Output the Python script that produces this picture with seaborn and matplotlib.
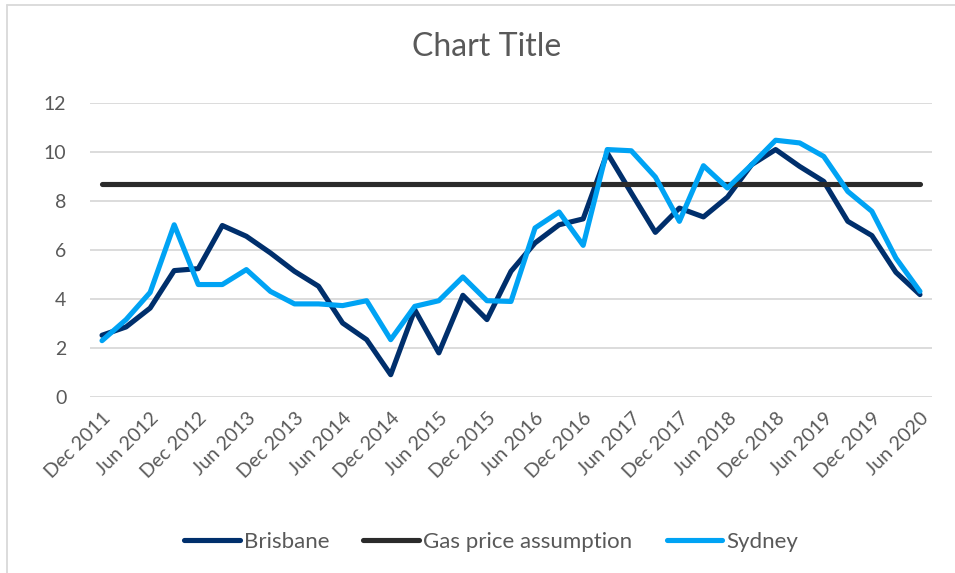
import matplotlib
matplotlib.use("Agg")
import matplotlib.pyplot as plt
import seaborn as sns
import pandas as pd
from matplotlib.lines import Line2D

# ---- data ----
quarters = [
    "Dec 2011", "Mar 2012", "Jun 2012", "Sep 2012", "Dec 2012", "Mar 2013", "Jun 2013",
    "Sep 2013", "Dec 2013", "Mar 2014", "Jun 2014", "Sep 2014", "Dec 2014", "Mar 2015",
    "Jun 2015", "Sep 2015", "Dec 2015", "Mar 2016", "Jun 2016", "Sep 2016", "Dec 2016",
    "Mar 2017", "Jun 2017", "Sep 2017", "Dec 2017", "Mar 2018", "Jun 2018", "Sep 2018",
    "Dec 2018", "Mar 2019", "Jun 2019", "Sep 2019", "Dec 2019", "Mar 2020", "Jun 2020",
]
brisbane = [2.52, 2.86, 3.63, 5.16, 5.24, 7.00, 6.56, 5.88, 5.13, 4.52, 3.02, 2.34,
            0.91, 3.56, 1.80, 4.15, 3.16, 5.13, 6.29, 7.03, 7.27, 9.96, 8.33, 6.72,
            7.71, 7.35, 8.16, 9.48, 10.10, 9.41, 8.80, 7.17, 6.59, 5.09, 4.18]
sydney = [2.30, 3.16, 4.27, 7.03, 4.59, 4.59, 5.20, 4.31, 3.80, 3.80, 3.73, 3.93,
          2.34, 3.70, 3.93, 4.90, 3.93, 3.90, 6.90, 7.55, 6.19, 10.10, 10.05, 8.98,
          7.17, 9.44, 8.53, 9.48, 10.48, 10.37, 9.82, 8.39, 7.58, 5.67, 4.31]
gas_price = [8.7] * len(quarters)

series_names = ["Brisbane", "Gas price assumption", "Sydney"]
colors = {"Brisbane": "#002f6c", "Gas price assumption": "#2b2b2b", "Sydney": "#00a3f4"}
yticks = [0, 2, 4, 6, 8, 10, 12]

rows = []
for name, vals in zip(series_names, [brisbane, gas_price, sydney]):
    for i, v in enumerate(vals):
        rows.append({"idx": i, "value": v, "series": name})
df = pd.DataFrame(rows)

# ---- style ----
sns.set_theme(style="white")
plt.rcParams["font.family"] = ["Lato", "DejaVu Sans"]
text_color = "#595959"

fig = plt.figure(figsize=(9.55, 5.73), dpi=100)
ax = fig.add_axes([90 / 955, 1 - 397 / 573, (932 - 90) / 955, (397 - 103) / 573])

sns.lineplot(data=df, x="idx", y="value", hue="series", hue_order=series_names,
             palette=colors, linewidth=3.7, ax=ax, legend=False, sort=False)
for ln in ax.get_lines():
    ln.set_solid_capstyle("round")
    ln.set_solid_joinstyle("round")

ax.set_xlim(-0.5, len(quarters) - 0.5)
ax.set_ylim(0, 12)
ax.set_yticks(yticks)
ax.set_yticklabels([str(t) for t in yticks])
tick_pos = list(range(0, len(quarters), 2))
ax.set_xticks(tick_pos)
ax.set_xticklabels([quarters[i] for i in tick_pos], rotation=45, ha="right",
                   rotation_mode="anchor")
ax.tick_params(axis="both", length=0, labelsize=14, colors=text_color)
ax.tick_params(axis="y", pad=17)
ax.tick_params(axis="x", pad=9)
ax.yaxis.grid(True, color="#d9d9d9", linewidth=1.3)
ax.set_axisbelow(True)
for s in ax.spines.values():
    s.set_visible(False)
ax.set_xlabel("")
ax.set_ylabel("")

fig.text(487 / 955, 1 - 47 / 573, "Chart Title", ha="center", va="center",
         fontsize=23, color=text_color)

handles = [Line2D([0], [0], color=colors[n], linewidth=3.7, solid_capstyle="round")
           for n in series_names]
fig.legend(handles, series_names, loc="center", bbox_to_anchor=(491 / 955, 1 - 542 / 573),
           ncol=3, frameon=False, fontsize=16, handlelength=2.5, handletextpad=0.18,
           columnspacing=1.55, labelcolor=text_color, borderpad=0, borderaxespad=0)

# outer chart border (partially cropped in reference)
fig.add_artist(Line2D([7 / 955, 7 / 955], [0, 1 - 4.5 / 573], color="#d9d9d9",
                      linewidth=1.3, transform=fig.transFigure))
fig.add_artist(Line2D([7 / 955, 1], [1 - 4.5 / 573, 1 - 4.5 / 573], color="#d9d9d9",
                      linewidth=1.3, transform=fig.transFigure))

fig.savefig("out.png", dpi=100, facecolor="white")
